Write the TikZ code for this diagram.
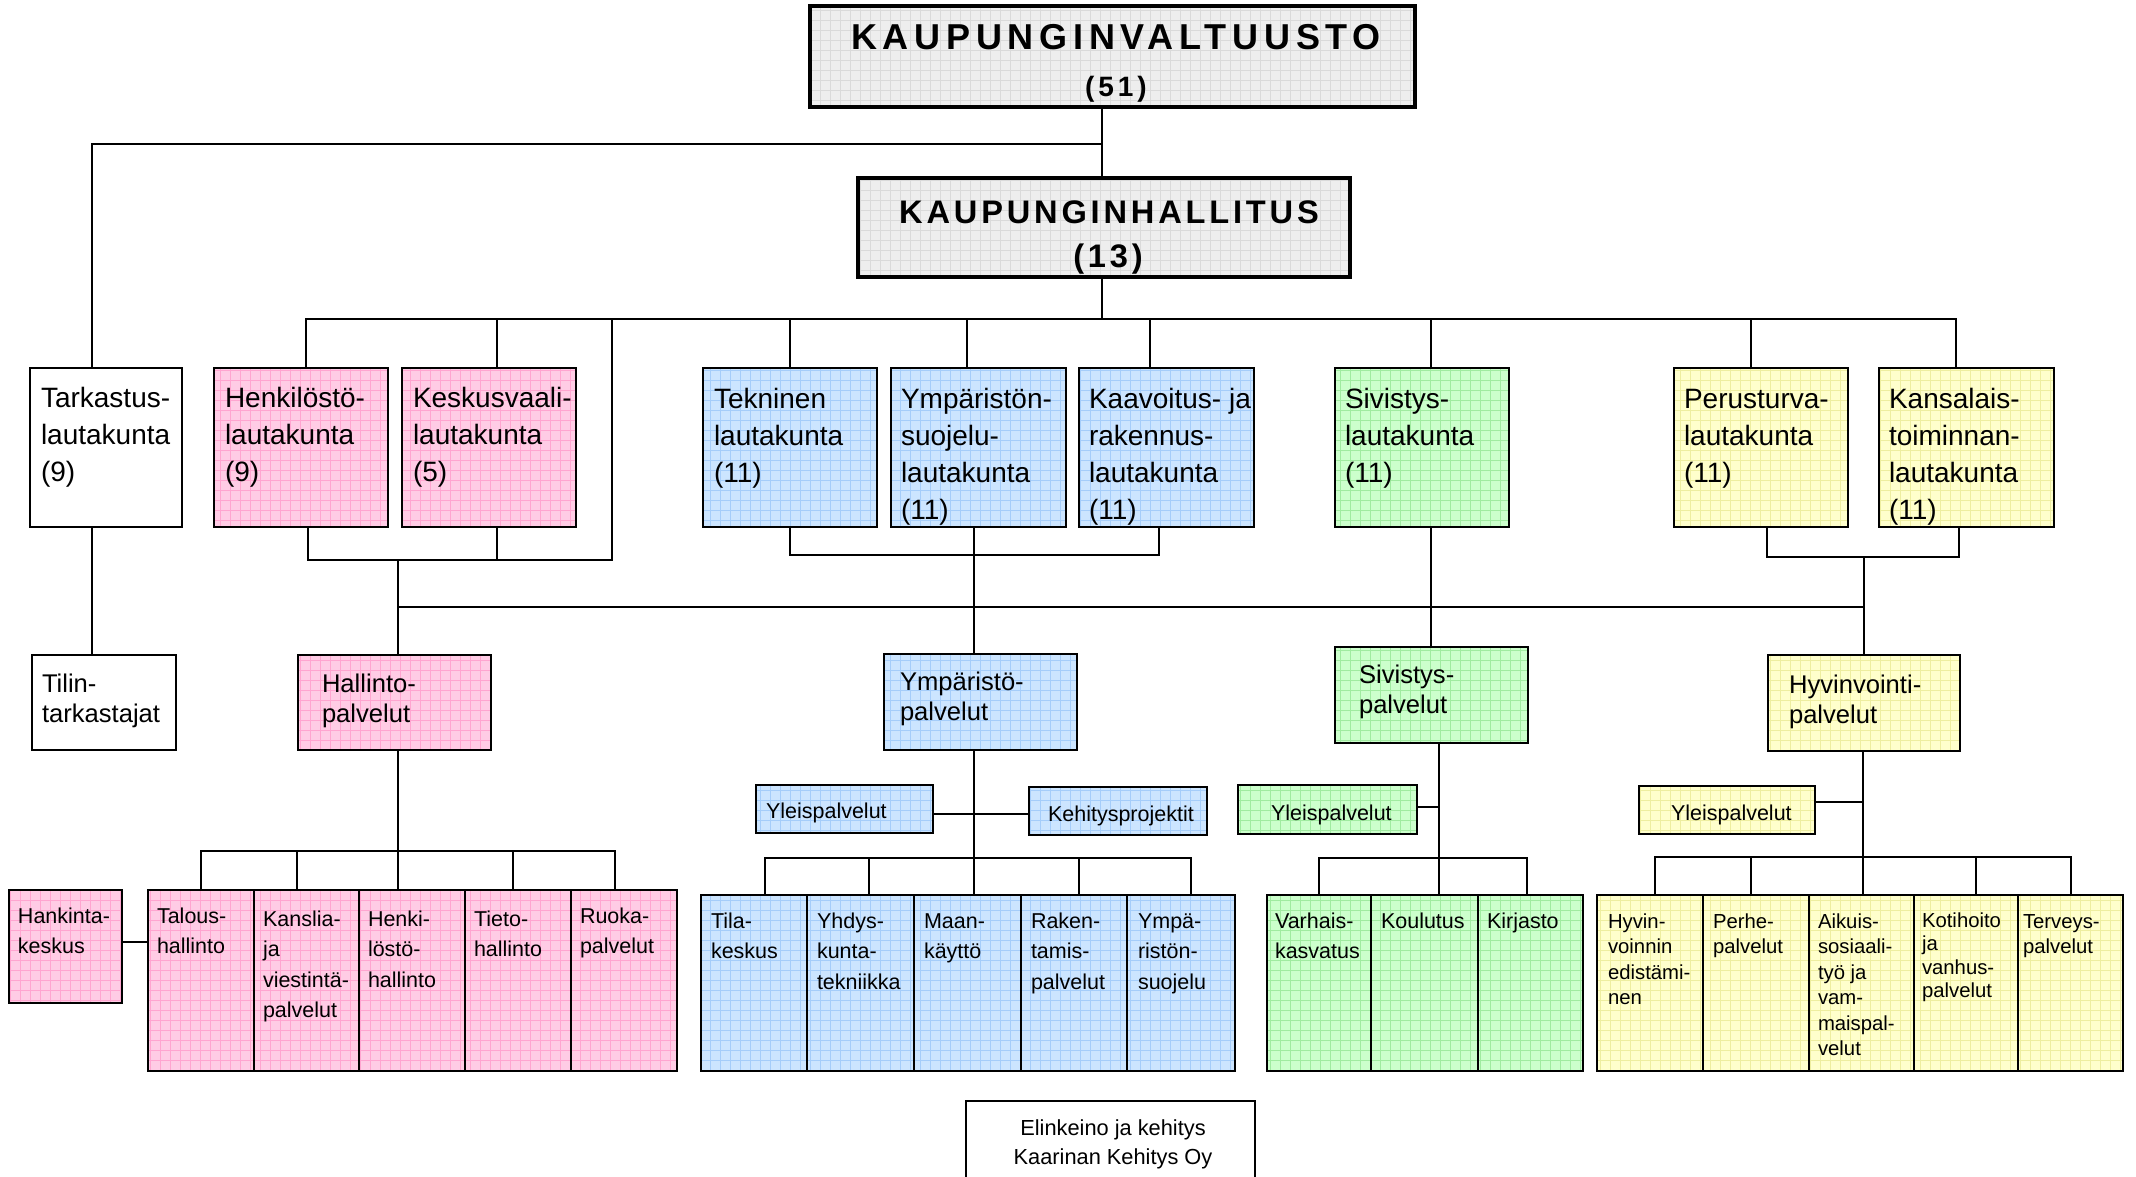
\documentclass[tikz,border=0pt]{standalone}
\usepackage{fontspec}
\setmainfont{Liberation Sans}
\newfontfamily\kvfont{Liberation Sans}[LetterSpace=16]
\newfontfamily\kvnfont{Liberation Sans}[LetterSpace=14]
\newfontfamily\khfont{Liberation Sans}[LetterSpace=11.7]
\definecolor{cpink}{RGB}{255,204,229}
\definecolor{cpinkg}{RGB}{255,165,208}
\definecolor{cblue}{RGB}{204,229,255}
\definecolor{cblueg}{RGB}{165,205,250}
\definecolor{cgreen}{RGB}{204,255,204}
\definecolor{cgreeng}{RGB}{160,235,160}
\definecolor{cyellow}{RGB}{255,255,204}
\definecolor{cyellowg}{RGB}{238,238,160}
\definecolor{cgray}{RGB}{238,238,238}
\definecolor{cgrayg}{RGB}{218,218,218}
\definecolor{cwhite}{RGB}{255,255,255}
\definecolor{cwhiteg}{RGB}{255,255,255}
\newcommand\ml[1]{\vtop{\halign{##\hfil\cr#1\crcr}}}
\newcommand\mlc[1]{\vtop{\halign{\hfil##\hfil\cr#1\crcr}}}
\tikzset{
  conn/.style={line width=1pt, line cap=rect},
  boxbg/.style={anchor=north west, inner sep=0pt, outer sep=0pt, draw=none},
  tx/.style={anchor=base west, inner sep=0pt, outer sep=0pt},
  tc/.style={anchor=base, inner sep=0pt, outer sep=0pt},
  fA/.style={font=\fontsize{14}{18.5}\selectfont},
  fB/.style={font=\fontsize{12.8}{15}\selectfont},
  fC/.style={font=\fontsize{10.75}{15.25}\selectfont},
  fD/.style={font=\fontsize{10.15}{12.75}\selectfont},
  fDk/.style={font=\fontsize{10.15}{11.8}\selectfont},
  fE/.style={font=\fontsize{10.9}{14.5}\selectfont},
}
% name x1 y1 x2 y2 colour borderwidth
\newcommand\gbox[7]{%
  \node[boxbg, fill=#6, minimum width={(#4-#2)*0.5pt}, minimum height={(#5-#3)*0.5pt}] (#1) at (#2,#3) {};
  \begin{scope}
    \clip (#1.north west) rectangle (#1.south east);
    \draw[#6g, line width=0.45pt] (#1.north west) grid[step=5pt] (#1.south east);
  \end{scope}
  \draw[line width=#7] (#1.north west) rectangle (#1.south east);
}
\begin{document}
\begin{tikzpicture}[x=0.5pt,y=-0.5pt]
\useasboundingbox (0,0) rectangle (2136,1177);
\fill[white] (0,0) rectangle (2136,1177);

% ---------- top ----------
\gbox{kv}{810}{6}{1415}{107}{cgray}{1.8pt}
\node[tc, font=\kvfont\bfseries\fontsize{18}{20}\selectfont] (kvt) at (1116,50) {KAUPUNGINVALTUUSTO};
\node[tc, font=\kvnfont\bfseries\fontsize{14}{16}\selectfont] (kvn) at (1116,97) {(51)};
\gbox{kh}{858}{178}{1350}{277}{cgray}{1.8pt}
\node[tc, font=\khfont\bfseries\fontsize{16.3}{18}\selectfont] (kht) at (1109,223) {KAUPUNGINHALLITUS};
\node[tc, font=\khfont\bfseries\fontsize{16.3}{18}\selectfont] (khn) at (1108,267) {(13)};

% ---------- row 1 ----------
\gbox{tark}{30}{368}{182}{527}{cwhite}{1.3pt}
\gbox{henk}{214}{368}{388}{527}{cpink}{1.3pt}
\gbox{kesk}{402}{368}{576}{527}{cpink}{1.3pt}
\gbox{tekn}{703}{368}{877}{527}{cblue}{1.3pt}
\gbox{ymps}{891}{368}{1066}{527}{cblue}{1.3pt}
\gbox{kaav}{1079}{368}{1254}{527}{cblue}{1.3pt}
\gbox{sivl}{1335}{368}{1509}{527}{cgreen}{1.3pt}
\gbox{peru}{1674}{368}{1848}{527}{cyellow}{1.3pt}
\gbox{kans}{1879}{368}{2054}{527}{cyellow}{1.3pt}
\node[tx,fA] (tarkT) at (41,407) {\ml{Tarkastus-\cr lautakunta\cr (9)}};
\node[tx,fA] (henkT) at (225,407) {\ml{Henkilöstö-\cr lautakunta\cr (9)}};
\node[tx,fA] (keskT) at (413,407) {\ml{Keskusvaali-\cr lautakunta\cr (5)}};
\node[tx,fA] (teknT) at (714,408) {\ml{Tekninen\cr lautakunta\cr (11)}};
\node[tx,fA] (ympsT) at (901,408) {\ml{Ympäristön-\cr suojelu-\cr lautakunta\cr (11)}};
\node[tx,fA] (kaavT) at (1089,408) {\ml{Kaavoitus- ja\cr rakennus-\cr lautakunta\cr (11)}};
\node[tx,fA] (sivlT) at (1345,408) {\ml{Sivistys-\cr lautakunta\cr (11)}};
\node[tx,fA] (peruT) at (1684,408) {\ml{Perusturva-\cr lautakunta\cr (11)}};
\node[tx,fA] (kansT) at (1889,408) {\ml{Kansalais-\cr toiminnan-\cr lautakunta\cr (11)}};

% ---------- middle ----------
\gbox{tilin}{32}{655}{176}{750}{cwhite}{1.3pt}
\gbox{hallp}{298}{655}{491}{750}{cpink}{1.3pt}
\gbox{ympp}{884}{654}{1077}{750}{cblue}{1.3pt}
\gbox{sivp}{1335}{647}{1528}{743}{cgreen}{1.3pt}
\gbox{hyvp}{1768}{655}{1960}{751}{cyellow}{1.3pt}
\node[tx,fB] (tilinT) at (42,692) {\ml{Tilin-\cr tarkastajat}};
\node[tx,fB] (hallpT) at (322,692) {\ml{Hallinto-\cr palvelut}};
\node[tx,fB] (ymppT) at (900,690) {\ml{Ympäristö-\cr palvelut}};
\node[tx,fB] (sivpT) at (1359,683) {\ml{Sivistys-\cr palvelut}};
\node[tx,fB] (hyvpT) at (1789,693) {\ml{Hyvinvointi-\cr palvelut}};

% ---------- lower pink ----------
\gbox{hank}{9}{890}{122}{1003}{cpink}{1.3pt}
\gbox{tal}{148}{890}{254}{1071}{cpink}{1.3pt}
\gbox{kan}{254}{890}{359}{1071}{cpink}{1.3pt}
\gbox{hen}{359}{890}{465}{1071}{cpink}{1.3pt}
\gbox{tie}{465}{890}{571}{1071}{cpink}{1.3pt}
\gbox{ruo}{571}{890}{677}{1071}{cpink}{1.3pt}
\node[tx,fC] (hankT) at (18,923) {\ml{Hankinta-\cr keskus}};
\node[tx,fC] (talT) at (157,923) {\ml{Talous-\cr hallinto}};
\node[tx,fC] (kanT) at (263,926) {\ml{Kanslia-\cr ja\cr viestintä-\cr palvelut}};
\node[tx,fC] (henT) at (368,926) {\ml{Henki-\cr löstö-\cr hallinto}};
\node[tx,fC] (tieT) at (474,926) {\ml{Tieto-\cr hallinto}};
\node[tx,fC] (ruoT) at (580,923) {\ml{Ruoka-\cr palvelut}};

% ---------- lower blue ----------
\gbox{yleb}{756}{785}{933}{833}{cblue}{1.3pt}
\gbox{kehb}{1029}{787}{1207}{835}{cblue}{1.3pt}
\gbox{tila}{701}{895}{807}{1071}{cblue}{1.3pt}
\gbox{yhd}{807}{895}{914}{1071}{cblue}{1.3pt}
\gbox{maan}{914}{895}{1021}{1071}{cblue}{1.3pt}
\gbox{rak}{1021}{895}{1127}{1071}{cblue}{1.3pt}
\gbox{ympa}{1127}{895}{1235}{1071}{cblue}{1.3pt}
\node[tx,fC] (ylebT) at (766,818) {Yleispalvelut};
\node[tx,fC] (kehbT) at (1048,821) {Kehitysprojektit};
\node[tx,fC] (tilaT) at (711,928) {\ml{Tila-\cr keskus}};
\node[tx,fC] (yhdT) at (817,928) {\ml{Yhdys-\cr kunta-\cr tekniikka}};
\node[tx,fC] (maanT) at (924,928) {\ml{Maan-\cr käyttö}};
\node[tx,fC] (rakT) at (1031,928) {\ml{Raken-\cr tamis-\cr palvelut}};
\node[tx,fC] (ympaT) at (1138,928) {\ml{Ympä-\cr ristön-\cr suojelu}};

% ---------- lower green ----------
\gbox{yleg}{1238}{785}{1417}{834}{cgreen}{1.3pt}
\gbox{var}{1267}{895}{1371}{1071}{cgreen}{1.3pt}
\gbox{kou}{1371}{895}{1478}{1071}{cgreen}{1.3pt}
\gbox{kir}{1478}{895}{1583}{1071}{cgreen}{1.3pt}
\node[tx,fC] (ylegT) at (1271,820) {Yleispalvelut};
\node[tx,fC] (varT) at (1275,928) {\ml{Varhais-\cr kasvatus}};
\node[tx,fC] (kouT) at (1381,928) {Koulutus};
\node[tx,fC] (kirT) at (1487,928) {Kirjasto};

% ---------- lower yellow ----------
\gbox{yley}{1639}{786}{1815}{834}{cyellow}{1.3pt}
\gbox{hyv}{1597}{895}{1703}{1071}{cyellow}{1.3pt}
\gbox{per}{1703}{895}{1809}{1071}{cyellow}{1.3pt}
\gbox{aik}{1809}{895}{1914}{1071}{cyellow}{1.3pt}
\gbox{kot}{1914}{895}{2018}{1071}{cyellow}{1.3pt}
\gbox{ter}{2018}{895}{2123}{1071}{cyellow}{1.3pt}
\node[tx,fC] (yleyT) at (1671,820) {Yleispalvelut};
\node[tx,fD] (hyvT) at (1608,928) {\ml{Hyvin-\cr voinnin\cr edistämi-\cr nen}};
\node[tx,fD] (perT) at (1713,928) {\ml{Perhe-\cr palvelut}};
\node[tx,fD] (aikT) at (1818,928) {\ml{Aikuis-\cr sosiaali-\cr työ ja\cr vam-\cr maispal-\cr velut}};
\node[tx,fDk] (kotT) at (1922,927) {\ml{Kotihoito\cr ja\cr vanhus-\cr palvelut}};
\node[tx,fD] (terT) at (2023,928) {\ml{Terveys-\cr palvelut}};

% ---------- Elinkeino ----------
\gbox{elin}{966}{1101}{1255}{1200}{cwhite}{1.2pt}
\node[tc,fE] (elinT) at (1113,1135) {\mlc{Elinkeino ja kehitys\cr Kaarinan Kehitys Oy}};

% ---------- connectors: top ----------
\coordinate (jv) at (1102,144);
\coordinate (jt) at (92,144);
\coordinate (jb) at (1102,319);
\draw[conn] (kv.south -| jv) -- (kh.north -| jv);
\draw[conn] (jv) -- (jt) -- (tark.north -| jt);
\draw[conn] (kh.south -| jb) -- (jb);
\coordinate (b1l) at (306,319);
\coordinate (b1r) at (1956,319);
\draw[conn] (b1l) -- (b1r);
\foreach \n/\x in {henk/306, kesk/497, tekn/790, ymps/967, kaav/1150, sivl/1431, peru/1751, kans/1956}{
  \coordinate (d\n) at (\x,319);
  \draw[conn] (d\n) -- (\n.north -| d\n);
}
\coordinate (ja) at (612,319);
\coordinate (jc) at (612,560);
\draw[conn] (ja) -- (jc);
\coordinate (hk1) at (308,560);
\coordinate (hk2) at (497,560);
\draw[conn] (henk.south -| hk1) -- (hk1) -- (jc);
\draw[conn] (kesk.south -| hk2) -- (hk2);
\coordinate (hx) at (398,560);
\draw[conn] (hx) -- (hallp.north -| hx);
\coordinate (b2l) at (398,607);
\coordinate (b2r) at (1864,607);
\draw[conn] (b2l) -- (b2r);
\coordinate (tk1) at (790,555);
\coordinate (tk2) at (1159,555);
\draw[conn] (tekn.south -| tk1) -- (tk1) -- (tk2) -- (kaav.south -| tk2);
\coordinate (yx) at (974,555);
\draw[conn] (ymps.south -| yx) -- (ympp.north -| yx);
\coordinate (sx) at (1431,600);
\draw[conn] (sivl.south -| sx) -- (sivp.north -| sx);
\coordinate (pk1) at (1767,557);
\coordinate (pk2) at (1959,557);
\draw[conn] (peru.south -| pk1) -- (pk1) -- (pk2) -- (kans.south -| pk2);
\coordinate (px) at (1864,557);
\draw[conn] (px) -- (hyvp.north -| px);
\draw[conn] (tark.south -| jt) -- (tilin.north -| jt);

% ---------- connectors: lower pink ----------
\coordinate (hl) at (398,851);
\draw[conn] (hallp.south -| hl) -- (hl);
\coordinate (pb1) at (201,851);
\coordinate (pb2) at (615,851);
\draw[conn] (pb1) -- (pb2);
\foreach \n/\x in {tal/201, kan/297, hen/398, tie/513, ruo/615}{
  \coordinate (d\n) at (\x,851);
  \draw[conn] (d\n) -- (\n.north -| d\n);
}
\coordinate (hq) at (0,942);
\draw[conn] (hank.east |- hq) -- (tal.west |- hq);

% ---------- connectors: lower blue ----------
\coordinate (yl) at (974,858);
\draw[conn] (ympp.south -| yl) -- (yl);
\coordinate (yq) at (974,814);
\draw[conn] (yleb.east |- yq) -- (kehb.west |- yq);
\coordinate (bb1) at (765,858);
\coordinate (bb2) at (1191,858);
\draw[conn] (bb1) -- (bb2);
\foreach \n/\x in {tila/765, yhd/869, maan/974, rak/1079, ympa/1191}{
  \coordinate (d\n) at (\x,858);
  \draw[conn] (d\n) -- (\n.north -| d\n);
}

% ---------- connectors: lower green ----------
\coordinate (sl) at (1439,858);
\draw[conn] (sivp.south -| sl) -- (sl);
\coordinate (sq) at (1439,807);
\draw[conn] (yleg.east |- sq) -- (sq);
\coordinate (gb1) at (1319,858);
\coordinate (gb2) at (1527,858);
\draw[conn] (gb1) -- (gb2);
\foreach \n/\x in {var/1319, kou/1439, kir/1527}{
  \coordinate (d\n) at (\x,858);
  \draw[conn] (d\n) -- (\n.north -| d\n);
}

% ---------- connectors: lower yellow ----------
\coordinate (vl) at (1863,857);
\draw[conn] (hyvp.south -| vl) -- (vl);
\coordinate (vq) at (1863,802);
\draw[conn] (yley.east |- vq) -- (vq);
\coordinate (vb1) at (1655,857);
\coordinate (vb2) at (2071,857);
\draw[conn] (vb1) -- (vb2);
\foreach \n/\x in {hyv/1655, per/1751, aik/1863, kot/1976, ter/2071}{
  \coordinate (d\n) at (\x,857);
  \draw[conn] (d\n) -- (\n.north -| d\n);
}
\end{tikzpicture}
\end{document}
